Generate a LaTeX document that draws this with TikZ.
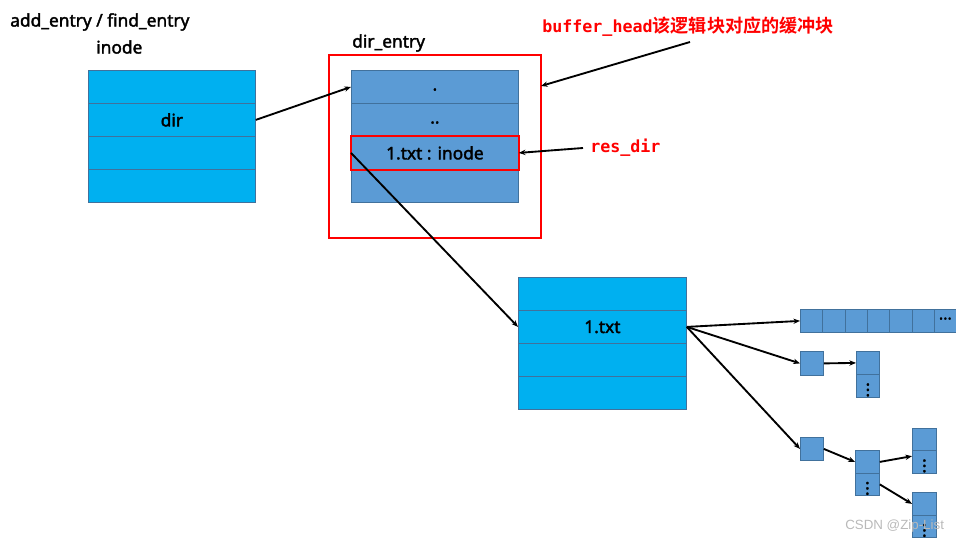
\documentclass[tikz,border=0pt]{standalone}
\usepackage{fontspec}
\setmainfont{Noto Sans}[FakeBold=2]
\newfontfamily\plainfont{Liberation Sans}
\newfontfamily\cjkfont{Noto Sans CJK SC}[BoldFont={* Bold}]
\newfontfamily\monofont{DejaVu Sans Mono}
\usetikzlibrary{arrows.meta}
\definecolor{cyanfill}{HTML}{00B0F0}
\definecolor{bluefill}{HTML}{5B9BD5}
\definecolor{blueedge}{HTML}{41719C}
\tikzset{
  x=0.75pt, y=-0.75pt,
  cell/.style={draw=blueedge, line width=0.6pt, inner sep=0pt, anchor=north west},
  cyancell/.style={cell, fill=cyanfill},
  bluecell/.style={cell, fill=bluefill},
  arr/.style={-{Stealth[length=5pt,width=4pt]}, line width=1.4pt, black},
  redbox/.style={draw=red, line width=1.6pt},
  lbl/.style={inner sep=0pt, font=\fontsize{13pt}{15pt}\selectfont},
  redlbl/.style={inner sep=0pt, text=red},
  vdots/.style={inner sep=0pt, font=\fontsize{13pt}{13pt}\selectfont},
}
\begin{document}
\begin{tikzpicture}
\useasboundingbox (0,0) rectangle (956,543);
% titles
\node[lbl, anchor=west] (title) at (10,22) {add\_entry / find\_entry};
\node[lbl, anchor=west] (inodelbl) at (96,47) {inode};
\node[lbl, anchor=west] (delbl) at (352,43) {dir\_entry};
% inode box
\foreach \i/\a in {1/70,2/103,3/136,4/169}
  \node[cyancell, minimum width=167*0.75pt, minimum height=33*0.75pt] (in\i) at (88,\a) {};
\node[lbl] at (in2) {dir};
% red outer box
\draw[redbox] (329,55) rectangle (541,238);
\coordinate (bhend) at (541,86);
% dir_entry box
\foreach \i/\a in {1/70,2/103,3/136,4/169}
  \node[bluecell, minimum width=167*0.75pt, minimum height=33*0.75pt] (de\i) at (351,\a) {};
\node[lbl] at ([yshift=-2pt]de1.center) {.};
\node[lbl] at ([yshift=-2pt]de2.center) {..};
\node[lbl] at (de3) {1.txt : inode};
\draw[redbox] (de3.north west) rectangle (de3.south east);
% 1.txt box
\foreach \i/\a in {1/277,2/310,3/343,4/376}
  \node[cyancell, minimum width=168*0.75pt, minimum height=33*0.75pt] (tx\i) at (518,\a) {};
\node[lbl] at (tx2) {1.txt};
% labels
\node[redlbl, anchor=west] (bh) at (542,27) {\fontsize{12.5pt}{15pt}\monofont\bfseries buffer\_head\fontsize{13.6pt}{15pt}\cjkfont\bfseries 该逻辑块对应的缓冲块};
\node[redlbl, anchor=west] (rd) at (590,148) {\fontsize{12.5pt}{15pt}\monofont\bfseries res\_dir};
\coordinate (bhstart) at (690,42);
\coordinate (rdstart) at (583,148);
% arrows
\draw[arr] (in2.east) -- (de1.west);
\draw[arr] (bhstart) -- (bhend);
\draw[arr] (rdstart) -- (de3.east);
\draw[arr] (de3.west) -- (tx2.west);
% array
\foreach \i in {0,...,6}
  \node[bluecell, minimum width=22.3*0.75pt, minimum height=23*0.75pt] (ar\i) at (800+22.3*\i,309) {};
\node[inner sep=0pt, font=\fontsize{12pt}{12pt}\selectfont] at (ar6.center) {···};
% single indirect
\node[bluecell, minimum width=23*0.75pt, minimum height=24*0.75pt] (s1) at (800,351) {};
\node[bluecell, minimum width=23*0.75pt, minimum height=23*0.75pt] (s2a) at (856,351) {};
\node[bluecell, minimum width=23*0.75pt, minimum height=23*0.75pt] (s2b) at (856,374) {};
\node[vdots] at (s2b) {$\vdots$};
% double indirect
\node[bluecell, minimum width=23*0.75pt, minimum height=23*0.75pt] (d1) at (800,437) {};
\node[bluecell, minimum width=24*0.75pt, minimum height=23*0.75pt] (d2a) at (855,450) {};
\node[bluecell, minimum width=24*0.75pt, minimum height=22*0.75pt] (d2b) at (855,473) {};
\node[vdots] at (d2b) {$\vdots$};
\node[bluecell, minimum width=24*0.75pt, minimum height=22*0.75pt] (d3a) at (912,428) {};
\node[bluecell, minimum width=24*0.75pt, minimum height=23*0.75pt] (d3b) at (912,450) {};
\node[vdots] at (d3b) {$\vdots$};
\node[bluecell, minimum width=24*0.75pt, minimum height=23*0.75pt] (d4a) at (912,492) {};
\node[bluecell, minimum width=24*0.75pt, minimum height=22*0.75pt] (d4b) at (912,515) {};
\node[vdots] at (d4b) {$\vdots$};
% arrows from 1.txt
\draw[arr] (tx2.east) -- (ar0.west);
\draw[arr] (tx2.east) -- (s1.west);
\draw[arr] (tx2.east) -- (d1.west);
\draw[arr] (s1.east) -- (s2a.west);
\draw[arr] (d1.east) -- (d2a.west);
\draw[arr] (d2a.east) -- ([yshift=-4pt]d3a.south west);
\draw[arr] (d2b.east) -- (d4a.west);
% watermark
\node[inner sep=0pt, anchor=west, text=gray!55, font=\plainfont\fontsize{10pt}{10pt}\selectfont] (wm) at (845,526) {CSDN @Zip-List};
\end{tikzpicture}
\end{document}
